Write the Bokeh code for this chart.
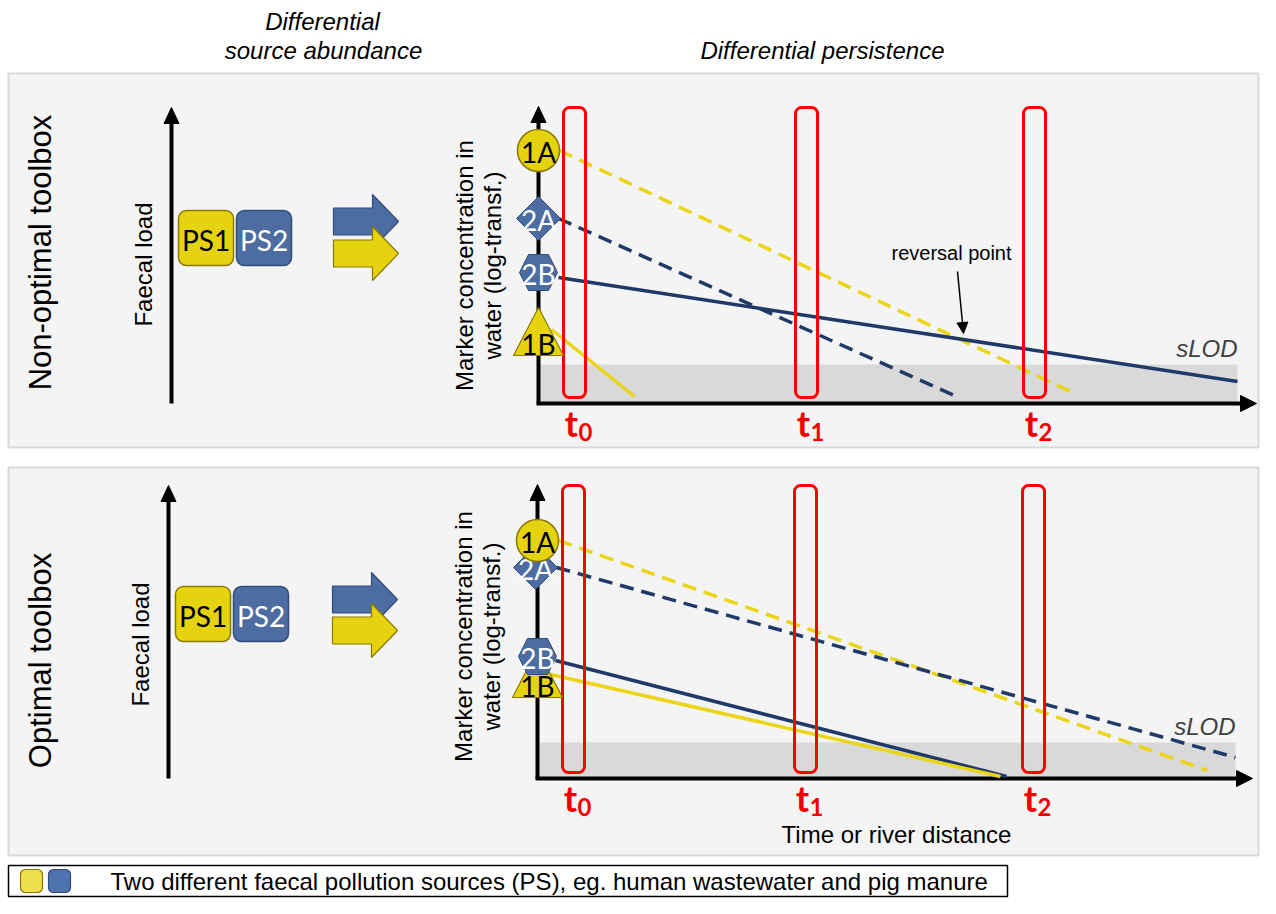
import math
from bokeh.plotting import figure
from bokeh.models import Range1d, Arrow, NormalHead
from bokeh.embed import file_html
from bokeh.resources import INLINE
from bokeh.core.properties import value

# ---------------- data ----------------
panel_titles = ["Non-optimal toolbox", "Optimal toolbox"]
panel_top = [73, 467]
panel_bottom = [447, 855]

marker_names = ["1A", "2A", "2B", "1B"]
marker_source = ["PS1", "PS2", "PS2", "PS1"]
marker_shape = ["circle", "diamond", "hex", "triangle"]
marker_dashed = [True, True, False, False]

# chart units: time = distance from the y axis, conc = height above the x axis
marker_conc = [[253, 185, 131, 66], [238, 211, 122, 99]]
marker_time = [[0, 0, 0, 0], [0, -2, 0, 0]]
line_t0 = [[21, 20, 20, 13], [21, 19, 18, 13]]
line_c0 = [[253, 185, 126, 74], [238, 211, 118, 104]]
line_t1 = [[534, 418, 699, 96], [670, 698, 469, 463]]
line_c1 = [[11, 7, 22, 7], [8, 21, 2, 2]]

slod_level = [39, 36]
slod_end = [699, 698]
sample_labels = ["0", "1", "2"]
sample_time = [36, 268, 496]

# ---------------- figure ----------------
p = figure(width=1260, height=898, x_range=Range1d(0, 1260), y_range=Range1d(898, 0),
           output_backend="svg", toolbar_location=None, min_border=0,
           x_axis_type=None, y_axis_type=None)
p.grid.visible = False
p.outline_line_color = None
p.background_fill_color = "white"
p.border_fill_color = "white"

YEL = "#e6d30f"
YEL_EDGE = "#8c7800"
BLU = "#4d6da2"
BLU_EDGE = "#2f4c7c"
LYEL = "#ead516"
LBLU = "#1f3a68"
RED = "#ff0000"
TRED = "#f20000"
FONT = "Liberation Sans"
CAL = "Lato"

def txt(x, y, s, size, color="black", font=FONT, style="normal", align="center",
        baseline="middle", angle=0.0):
    p.text(x=[x], y=[y], text=[s], text_font=value(font), text_font_size=size,
           text_color=color, text_font_style=style, text_align=align,
           text_baseline=baseline, angle=angle)

# headers
txt(322, 21, "Differential", "24px", style="italic")
txt(323, 50, "source abundance", "24px", style="italic")
txt(822, 50, "Differential persistence", "24px", style="italic")

# panels
p.quad(left=[8, 8], right=[1258, 1258], top=panel_top, bottom=panel_bottom,
       fill_color="#f4f4f4", line_color="#d9d9d9", line_width=2)

chart_ox = [538, 537]
chart_oy = [403, 778]
ylen = [297, 294]
xlen = [718, 715]
left_axis_x = [171, 168]
left_tip = [107, 485]
ps_x = [[178, 236], [175, 233]]
ps_top = [210, 586]
arrow_x = [333, 332]
arrow_yc = [[221, 253], [599, 630]]
title_y = [252, 660]
faecal_y = [264, 644]
ylab_y = [265, 636]

def arrow_head_up(x, ytip, w=15, h=16):
    return [x - w / 2, x, x + w / 2], [ytip + h, ytip, ytip + h]

for k in range(2):
    # panel title
    txt(40, title_y[k], panel_titles[k], "31px", angle=math.pi / 2)
    # faecal load axis
    lx = left_axis_x[k]
    bottom_y = chart_oy[k]
    p.segment(x0=[lx], y0=[bottom_y], x1=[lx], y1=[left_tip[k] + 10], line_color="black", line_width=4)
    hx, hy = arrow_head_up(lx, left_tip[k])
    p.patch(hx, hy, fill_color="black", line_color="black")
    txt(lx - 28, faecal_y[k], "Faecal load", "24px", angle=math.pi / 2)
    # PS boxes
    xs = ps_x[k]
    p.quad(left=[xs[0], xs[1]], right=[xs[0] + 55, xs[1] + 55], top=[ps_top[k]] * 2,
           bottom=[ps_top[k] + 55] * 2, fill_color=[YEL, BLU], line_color=[YEL_EDGE, BLU_EDGE],
           line_width=1.5, border_radius=8)
    txt(xs[0] + 27.5, ps_top[k] + 29, "PS1", "28px", font=CAL)
    txt(xs[1] + 27.5, ps_top[k] + 29, "PS2", "28px", color="white", font=CAL)
    # fat arrows
    for yc, fc, ec in zip(arrow_yc[k], [BLU, YEL], [BLU_EDGE, YEL_EDGE]):
        x0 = arrow_x[k]
        xb, xt = x0 + 39, x0 + 65
        hb, hh = 13.5, 27
        p.patch([x0, xb, xb, xt, xb, xb, x0],
                [yc - hb, yc - hb, yc - hh, yc, yc + hh, yc + hb, yc + hb],
                fill_color=fc, line_color=ec, line_width=1.2)

    ox, oy = chart_ox[k], chart_oy[k]
    X = lambda t: ox + t
    Y = lambda c: oy - c
    # sLOD band
    p.quad(left=[X(0)], right=[X(slod_end[k])], top=[Y(slod_level[k])], bottom=[Y(0)],
           fill_color="#d9d9d9", line_color=None)
    txt(X(slod_end[k]), Y(slod_level[k]) - 16, "sLOD", "24px", color="#404040",
        style="italic", align="right")
    # axes
    p.segment(x0=[X(0)], y0=[Y(0)], x1=[X(0)], y1=[Y(ylen[k]) + 10], line_color="black", line_width=4)
    hx, hy = arrow_head_up(X(0), Y(ylen[k]))
    p.patch(hx, hy, fill_color="black", line_color="black")
    p.segment(x0=[X(-2)], y0=[Y(0)], x1=[X(xlen[k]) - 10], y1=[Y(0)], line_color="black", line_width=4)
    p.patch([X(xlen[k]) - 16, X(xlen[k]), X(xlen[k]) - 16], [Y(0) - 8, Y(0), Y(0) + 8],
            fill_color="black", line_color="black")
    # decay lines
    for i in range(4):
        col = LYEL if marker_source[i] == "PS1" else LBLU
        p.line([X(line_t0[k][i]), X(line_t1[k][i])], [Y(line_c0[k][i]), Y(line_c1[k][i])],
               line_color=col, line_width=3.5,
               line_dash="14 8" if marker_dashed[i] else "solid")
    # sampling windows
    for j in range(3):
        t = sample_time[j]
        p.quad(left=[X(t - 11)], right=[X(t + 11)], top=[Y(ylen[k] - 1)], bottom=[Y(6)],
               fill_color=None, line_color=RED, line_width=3, border_radius=6)
        txt(X(t - 3), Y(0) + 19, "t", "36px", color=TRED, font=CAL, style="bold")
        txt(X(t + 11), Y(0) + 28, sample_labels[j], "24px", color=TRED, font=CAL,
            style="bold")
    # markers (drawn bottom first so upper ones overlap)
    for i in [3, 2, 1, 0]:
        cx, cy = X(marker_time[k][i]), Y(marker_conc[k][i])
        fc = YEL if marker_source[i] == "PS1" else BLU
        ec = YEL_EDGE if marker_source[i] == "PS1" else BLU_EDGE
        tc = "black" if marker_source[i] == "PS1" else "white"
        shp = marker_shape[i]
        if shp == "circle":
            p.scatter([cx], [cy], marker="circle", size=42, fill_color=fc, line_color=ec, line_width=1.5)
            ty = cy
        elif shp == "diamond":
            p.patch([cx - 22, cx, cx + 22, cx], [cy, cy - 22, cy, cy + 22], fill_color=fc, line_color=ec)
            ty = cy
        elif shp == "hex":
            p.patch([cx - 19, cx - 10, cx + 10, cx + 19, cx + 10, cx - 10],
                    [cy, cy - 18, cy - 18, cy, cy + 18, cy + 18], fill_color=fc, line_color=ec)
            ty = cy
        else:
            p.patch([cx - 25, cx, cx + 25], [cy + 18, cy - 30, cy + 18], fill_color=fc,
                    line_color=ec, line_width=1.2)
            ty = cy + 5
        txt(cx, ty + 1, marker_names[i], "28px", color=tc, font=CAL)
    # y label
    txt(X(-74), ylab_y[k], "Marker concentration in", "24px", angle=math.pi / 2)
    txt(X(-46), ylab_y[k], "water (log-transf.)", "24px", angle=math.pi / 2)

# reversal point annotation (top panel)
txt(951, 252, "reversal point", "20px")
p.add_layout(Arrow(end=NormalHead(size=11, fill_color="black", line_color="black"),
                   x_start=957, y_start=271, x_end=963, y_end=333,
                   line_color="black", line_width=1.5))

# x axis title (bottom panel)
txt(896, 834, "Time or river distance", "24px")

# legend
p.quad(left=[8], right=[1007], top=[865], bottom=[896], fill_color="white",
       line_color="black", line_width=1.5)
p.quad(left=[20, 48], right=[42, 70], top=[869, 869], bottom=[892, 892],
       fill_color=["#ede04a", "#4e72ad"], line_color=["#8c7800", "#2f4c7c"],
       line_width=1.2, border_radius=5)
txt(110, 881, "Two different faecal pollution sources (PS), eg. human wastewater and pig manure",
    "24px", align="left")

open("out.html", "w").write(file_html(p, INLINE))
